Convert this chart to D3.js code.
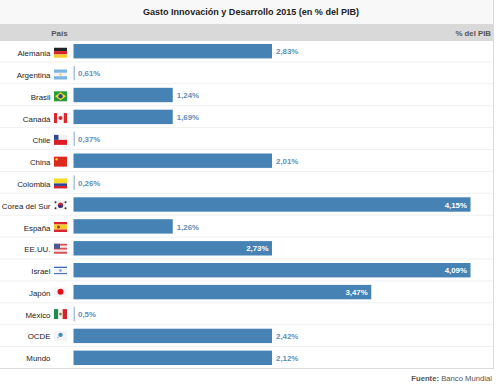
<!DOCTYPE html>
<html><head><meta charset="utf-8">
<script src="https://cdn.jsdelivr.net/npm/d3@7/dist/d3.min.js"></script>
<style>html,body{margin:0;padding:0;background:#fff}svg{display:block}text{font-family:"Liberation Sans",Arial,sans-serif}</style>
</head><body><svg id="c" width="500" height="385"></svg>
<script>
const countries=["Alemania","Argentina","Brasil","Canadá","Chile","China","Colombia","Corea del Sur","España","EE.UU.","Israel","Japón","México","OCDE","Mundo"];
const valueLabels=["2,83%","0,61%","1,24%","1,69%","0,37%","2,01%","0,26%","4,15%","1,26%","2,73%","4,09%","3,47%","0,5%","2,42%","2,12%"];
// drawn bar lengths as they appear in the picture (whole-number steps)
const barLengths=[2,0,1,1,0,2,0,4,1,2,4,3,0,2,2];
const labelInside=[false,false,false,false,false,false,false,true,false,true,true,true,false,false,false];
const titleText="Gasto Innovación y Desarrollo 2015 (en % del PIB)";
const headerLeft="País", headerRight="% del PIB";
const sourceBold="Fuente:", sourceRest=" Banco Mundial";

const svg=d3.select("#c");
const x=d3.scaleLinear().domain([0,4]).range([73.5,470.5]);
const y=d3.scaleBand().domain(countries).range([40.5,369]).paddingInner(0).paddingOuter(0);
// country names and flags sit slightly lower in the upper rows than the bars do
const nameShift=d3.scaleLinear().domain([0,14]).range([2,0.3]);
const blue="#4682b4";

svg.append("rect").attr("width",493).attr("height",24).attr("fill","#f8f8f8");
svg.append("rect").attr("y",24).attr("width",493).attr("height",17).attr("fill","#d9d9d9");
svg.append("line").attr("x1",493.5).attr("x2",493.5).attr("y1",0).attr("y2",368.5).attr("stroke","#dcdcdc");
svg.append("line").attr("x1",0).attr("x2",494).attr("y1",368.5).attr("y2",368.5).attr("stroke","#dcdcdc");

svg.append("text").attr("x",251).attr("y",14.5).attr("text-anchor","middle").attr("font-size",9.05).attr("font-weight","bold").attr("fill","#222").text(titleText);
svg.append("text").attr("x",59.5).attr("y",35.5).attr("text-anchor","middle").attr("font-size",8).attr("font-weight","bold").attr("fill","#555").text(headerLeft);
svg.append("text").attr("x",491).attr("y",35.5).attr("text-anchor","end").attr("font-size",7.8).attr("font-weight","bold").attr("fill","#555").text(headerRight);

const rows=svg.selectAll("g.row").data(countries).join("g").attr("class","row").attr("transform",d=>`translate(0,${y(d)})`);
rows.filter((d,i)=>i<countries.length-1).append("line").attr("x1",0).attr("x2",493).attr("y1",y.bandwidth()-.5).attr("y2",y.bandwidth()-.5).attr("stroke","#f0f0f0");
rows.append("text").attr("x",50.5).attr("y",(d,i)=>y.bandwidth()/2+2.9+nameShift(i)).attr("text-anchor","end").attr("font-size",7.9).attr("fill","#222").text(d=>d);

const barTop=3.5, barH=y.bandwidth()-7.5;
rows.append("rect").attr("x",x(0)).attr("y",barTop).attr("height",barH)
  .attr("width",(d,i)=>barLengths[i]?x(barLengths[i])-x(0):1.5)
  .attr("fill",(d,i)=>barLengths[i]?blue:"#a9c3da");
rows.append("text")
  .attr("x",(d,i)=>labelInside[i]?x(barLengths[i])-3.5:(barLengths[i]?x(barLengths[i])+4:x(0)+4.5))
  .attr("y",y.bandwidth()/2+2.9)
  .attr("text-anchor",(d,i)=>labelInside[i]?"end":"start")
  .attr("font-size",7.9).attr("font-weight","bold")
  .attr("fill",(d,i)=>labelInside[i]?"#fff":"#5f8fb9")
  .text((d,i)=>valueLabels[i]);

// flags
const fx=54,fw=13,fh=10;
const fy0=y.bandwidth()/2-fh/2;
let fy=fy0;
function stripes(g,cols,ws){let t=0;const tot=d3.sum(ws);cols.forEach((c,i)=>{g.append("rect").attr("x",fx).attr("y",fy+t/tot*fh).attr("width",fw).attr("height",ws[i]/tot*fh).attr("fill",c);t+=ws[i];});}
function vstripes(g,cols){cols.forEach((c,i)=>g.append("rect").attr("x",fx+i*fw/cols.length).attr("y",fy).attr("width",fw/cols.length).attr("height",fh).attr("fill",c));}
function dot(g,cx,cy,r,c){g.append("circle").attr("cx",fx+cx).attr("cy",fy+cy).attr("r",r).attr("fill",c);}
function box(g,a,b,w,h,c){g.append("rect").attr("x",fx+a).attr("y",fy+b).attr("width",w).attr("height",h).attr("fill",c);}
const flags={
 "Alemania":g=>stripes(g,["#222","#d8232a","#f6cb2f"],[1,1,1]),
 "Argentina":g=>{stripes(g,["#7db6e3","#f4f4f4","#7db6e3"],[1,1,1]);dot(g,6.5,5,1,"#e6c04a");},
 "Brasil":g=>{box(g,0,0,fw,fh,"#2b9a3c");g.append("polygon").attr("points",[[fx+1,fy+5],[fx+6.5,fy+1],[fx+12,fy+5],[fx+6.5,fy+9]].join(" ")).attr("fill","#f2d92c");dot(g,6.5,5,2.2,"#2a4a8c");},
 "Canadá":g=>{vstripes(g,["#e0252b","#f8f8f8","#f8f8f8","#e0252b"]);dot(g,6.5,5,2,"#e0252b");},
 "Chile":g=>{stripes(g,["#f2f2f2","#dc1f26"],[1,1]);box(g,0,0,4.5,5,"#2d4a90");},
 "China":g=>{box(g,0,0,fw,fh,"#dd2a1f");dot(g,2.6,2.6,1.2,"#f3d13a");},
 "Colombia":g=>stripes(g,["#f6d92a","#2a3f94","#d9202c"],[2,1,1]),
 "Corea del Sur":g=>{box(g,0,0,fw,fh,"#f2f2f2");dot(g,6.5,5,2.6,"#c92a3a");g.append("path").attr("d",`M${fx+3.9},${fy+5}a2.6,2.6 0 0 0 5.2,0z`).attr("fill","#24367e");[[1.5,2],[11.5,2],[1.5,8],[11.5,8]].forEach(p=>dot(g,p[0],p[1],1,"#333"));},
 "España":g=>{stripes(g,["#d6252b","#f6c92c","#d6252b"],[1,2,1]);dot(g,4.5,5,1.5,"#b5322a");},
 "EE.UU.":g=>{stripes(g,["#d9525a","#f4e8e8","#d9525a","#f4e8e8","#d9525a"],[1,1,1,1,1]);box(g,0,0,6,5,"#4a5a94");},
 "Israel":g=>{stripes(g,["#fff","#3f6fb8","#f4f4f4","#3f6fb8","#fff"],[1,1.2,4.5,1.2,1]);dot(g,6.5,5,1.3,"#7d9cd0");},
 "Japón":g=>{box(g,0,0,fw,fh,"#f6f6f6");dot(g,6.5,4.5,3,"#e0101e");},
 "México":g=>{vstripes(g,["#1f8b4c","#f4f4f4","#d6242c"]);dot(g,6.5,5,1.4,"#9a7a3a");},
 "OCDE":g=>{box(g,0,0,fw,fh,"#f4f4f4");dot(g,6.5,4,2.2,"#3d8cc4");dot(g,4,6.5,.9,"#9cc4dc");}
};
rows.each(function(d,i){const f=flags[d];if(!f)return;fy=fy0+nameShift(i)-0.7;f(d3.select(this).append("g"));});

const s=svg.append("text").attr("x",492).attr("y",381).attr("text-anchor","end").attr("font-size",7.7).attr("font-weight","bold").attr("fill","#555");
s.append("tspan").text(sourceBold);
s.append("tspan").attr("font-weight","normal").text(sourceRest);
</script></body></html>
